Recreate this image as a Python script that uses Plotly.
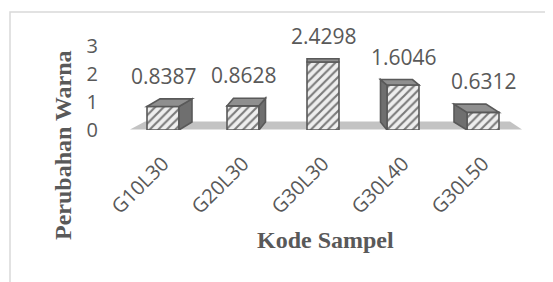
import plotly.graph_objects as go

# ---- data ----
categories = ["G10L30", "G20L30", "G30L30", "G30L40", "G30L50"]
values = [0.8387, 0.8628, 2.4298, 1.6046, 0.6312]
value_labels = ["0.8387", "0.8628", "2.4298", "1.6046", "0.6312"]
y_ticks = [0, 1, 2, 3]
x_title = "Kode Sampel"
y_title = "Perubahan Warna"

# ---- layout constants ----
W, H = 553, 282
OFF = 8                       # page body margin offset
ML, MR, MT, MB = 115, 38, 38, 160
YMAX = 3
PLOT_H = H - MT - MB
PW = W - ML - MR
PPU = PLOT_H / YMAX           # pixels per y unit
BAR_W = 0.4
HALF_PX = 16
TXT = "#595959"
EDGE = "#595959"


def px(xs):
    """screen x -> paper x"""
    return (xs - OFF - ML) / PW


def py(ys):
    """screen y -> paper y"""
    return (OFF + MT + PLOT_H - ys) / PLOT_H


fig = go.Figure()
fig.add_trace(go.Bar(
    x=categories, y=values, width=BAR_W,
    marker=dict(
        color="#ededed",
        line=dict(color=EDGE, width=1.6),
        pattern=dict(shape="/", fgcolor="#7a7a7a", bgcolor="#eeeeee",
                     size=6, solidity=0.35, fillmode="replace"),
    ),
    hoverinfo="skip",
))

shapes = []
shapes.append(dict(type="rect", xref="paper", yref="paper",
                   x0=px(10), x1=1.3, y0=-2.5, y1=py(12),
                   line=dict(color="#d9d9d9", width=1.5), layer="below"))
floor = (f"M {px(130)},{py(129.5)} L {px(145)},{py(121.5)} "
         f"L {px(510)},{py(121.5)} L {px(522)},{py(129.5)} Z")
shapes.append(dict(type="path", xref="paper", yref="paper", path=floor,
                   fillcolor="#c3c3c3", line=dict(width=0), layer="below"))

annotations = []
mid = (len(categories) - 1) / 2
for i, (c, v, lab) in enumerate(zip(categories, values, value_labels)):
    h = v * PPU
    top_y = OFF + MT + PLOT_H - h
    dy = 2 + 0.1 * (top_y - 50)
    dyb = 8
    dx = -6.5 * (i - mid)
    common = dict(type="path", xref="x", yref="y", xsizemode="pixel", ysizemode="pixel",
                  xanchor=c, yanchor=0, line=dict(color=EDGE, width=1.6), layer="above")
    if abs(dx) > 0.1:
        sx = HALF_PX if dx > 0 else -HALF_PX
        side = f"M {sx},{h} L {sx + dx},{h + dy} L {sx + dx},{dyb} L {sx},0 Z"
        shapes.append(dict(common, path=side, fillcolor="#6f6f6f"))
    top = (f"M {-HALF_PX},{h} L {HALF_PX},{h} L {HALF_PX + dx},{h + dy} "
           f"L {-HALF_PX + dx},{h + dy} Z")
    shapes.append(dict(common, path=top, fillcolor="#8f8f8f"))
    annotations.append(dict(x=c, y=v, xref="x", yref="y", text=lab, showarrow=False,
                            yanchor="middle", yshift=dy + 23, xshift=1,
                            font=dict(family="Open Sans", size=21, color=TXT)))

annotations.append(dict(xref="paper", yref="paper", x=px(325), y=py(240),
                        text="<b>" + x_title + "</b>", showarrow=False,
                        xanchor="center", yanchor="middle",
                        font=dict(family="Liberation Serif", size=24, color=TXT)))
annotations.append(dict(xref="paper", yref="paper", x=px(63), y=py(145),
                        text="<b>" + y_title + "</b>", showarrow=False,
                        xanchor="center", yanchor="middle", textangle=-90,
                        font=dict(family="Liberation Serif", size=24, color=TXT)))

fig.update_layout(
    width=W, height=H,
    margin=dict(l=ML, r=MR, t=MT, b=MB),
    paper_bgcolor="white", plot_bgcolor="rgba(0,0,0,0)",
    showlegend=False,
    shapes=shapes, annotations=annotations,
    font=dict(family="Open Sans", color=TXT),
    xaxis=dict(type="category", range=[-0.5, len(categories) - 0.5],
               showgrid=False, showline=False, zeroline=False, ticks="",
               tickangle=-45, tickfont=dict(size=20, color=TXT),
               ticklabelstandoff=17, fixedrange=True),
    yaxis=dict(range=[0, YMAX], tickvals=y_ticks, showgrid=False, showline=False,
               zeroline=False, ticks="", tickfont=dict(size=20, color=TXT),
               ticklabelstandoff=24, fixedrange=True),
)

fig.write_html("out.html")
